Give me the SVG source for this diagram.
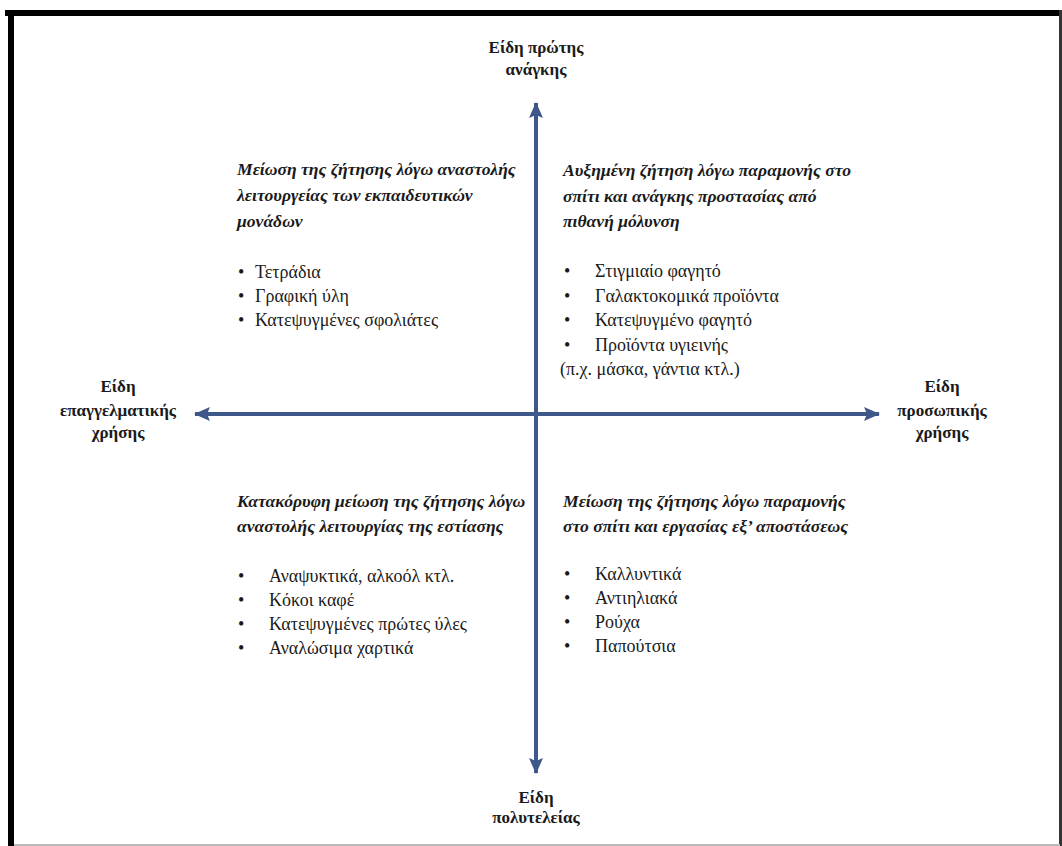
<svg xmlns="http://www.w3.org/2000/svg" width="1062" height="846" viewBox="0 0 1062 846">
<style>
.ax{font-family:"Liberation Serif",serif;font-size:17px;font-weight:bold;text-anchor:middle;fill:#1a1a1a}
.hd{font-family:"Liberation Serif",serif;font-size:17.6px;font-weight:bold;font-style:italic;fill:#1a1a1a}
.it{font-family:"Liberation Serif",serif;font-size:18px;fill:#1a1a1a}
.axis{stroke:#3d5889;stroke-width:4;fill:none}
</style>
<defs>
<marker id="ah" viewBox="0 0 16 14" refX="15" refY="7" markerWidth="16" markerHeight="14" markerUnits="userSpaceOnUse" orient="auto">
<path d="M0,0 L16,7 L0,14 L3,7 Z" fill="#3d5889"/>
</marker>
</defs>
<rect x="0" y="0" width="1062" height="846" fill="#ffffff"/>
<g id="frame">
<rect x="5" y="10" width="1057" height="6" fill="#000"/>
<rect x="8" y="10" width="6" height="836" fill="#000"/>
<rect x="1059" y="10" width="3" height="836" fill="#333"/>
<rect x="14" y="844" width="1046" height="2" fill="#bbb"/>
</g>
<g id="connectors">
<line class="axis" x1="536" y1="414" x2="536" y2="103" marker-end="url(#ah)"/>
<line class="axis" x1="536" y1="414" x2="536" y2="773" marker-end="url(#ah)"/>
<line class="axis" x1="536" y1="414" x2="195" y2="414" marker-end="url(#ah)"/>
<line class="axis" x1="536" y1="414" x2="879" y2="414" marker-end="url(#ah)"/>
</g>
<g id="label-top">
<text class="ax" x="536" y="53">Είδη πρώτης</text>
<text class="ax" x="536" y="75">ανάγκης</text>
</g>
<g id="label-bottom">
<text class="ax" x="536" y="803">Είδη</text>
<text class="ax" x="536" y="823">πολυτελείας</text>
</g>
<g id="label-left">
<text class="ax" x="118" y="392">Είδη</text>
<text class="ax" x="118" y="416">επαγγελματικής</text>
<text class="ax" x="118" y="438">χρήσης</text>
</g>
<g id="label-right">
<text class="ax" x="942" y="392">Είδη</text>
<text class="ax" x="942" y="416">προσωπικής</text>
<text class="ax" x="942" y="438">χρήσης</text>
</g>
<g id="quadrant-top-left">
<text class="hd" x="237" y="175">Μείωση της ζήτησης λόγω αναστολής</text>
<text class="hd" x="237" y="201">λειτουργείας των εκπαιδευτικών</text>
<text class="hd" x="237" y="227">μονάδων</text>
<text class="it" x="238" y="278">•</text><text class="it" x="255" y="278">Τετράδια</text>
<text class="it" x="238" y="302">•</text><text class="it" x="255" y="302">Γραφική ύλη</text>
<text class="it" x="238" y="326">•</text><text class="it" x="255" y="326">Κατεψυγμένες σφολιάτες</text>
</g>
<g id="quadrant-top-right">
<text class="hd" x="563" y="176">Αυξημένη ζήτηση λόγω παραμονής στο</text>
<text class="hd" x="563" y="202">σπίτι και ανάγκης προστασίας από</text>
<text class="hd" x="563" y="227">πιθανή μόλυνση</text>
<text class="it" x="564" y="277">•</text><text class="it" x="595" y="277">Στιγμιαίο φαγητό</text>
<text class="it" x="564" y="301.5">•</text><text class="it" x="595" y="301.5">Γαλακτοκομικά προϊόντα</text>
<text class="it" x="564" y="326">•</text><text class="it" x="595" y="326">Κατεψυγμένο φαγητό</text>
<text class="it" x="564" y="350.5">•</text><text class="it" x="595" y="350.5">Προϊόντα υγιεινής</text>
<text class="it" x="560" y="375">(π.χ. μάσκα, γάντια κτλ.)</text>
</g>
<g id="quadrant-bottom-left">
<text class="hd" x="237" y="507">Κατακόρυφη μείωση της ζήτησης λόγω</text>
<text class="hd" x="237" y="532">αναστολής λειτουργίας της εστίασης</text>
<text class="it" x="238" y="582">•</text><text class="it" x="269" y="582">Αναψυκτικά, αλκοόλ κτλ.</text>
<text class="it" x="238" y="606">•</text><text class="it" x="269" y="606">Κόκοι καφέ</text>
<text class="it" x="238" y="630">•</text><text class="it" x="269" y="630">Κατεψυγμένες πρώτες ύλες</text>
<text class="it" x="238" y="654">•</text><text class="it" x="269" y="654">Αναλώσιμα χαρτικά</text>
</g>
<g id="quadrant-bottom-right">
<text class="hd" x="563" y="507">Μείωση της ζήτησης λόγω παραμονής</text>
<text class="hd" x="563" y="532">στο σπίτι και εργασίας εξ’ αποστάσεως</text>
<text class="it" x="564" y="580">•</text><text class="it" x="595" y="580">Καλλυντικά</text>
<text class="it" x="564" y="604">•</text><text class="it" x="595" y="604">Αντιηλιακά</text>
<text class="it" x="564" y="628">•</text><text class="it" x="595" y="628">Ρούχα</text>
<text class="it" x="564" y="652">•</text><text class="it" x="595" y="652">Παπούτσια</text>
</g>
</svg>
